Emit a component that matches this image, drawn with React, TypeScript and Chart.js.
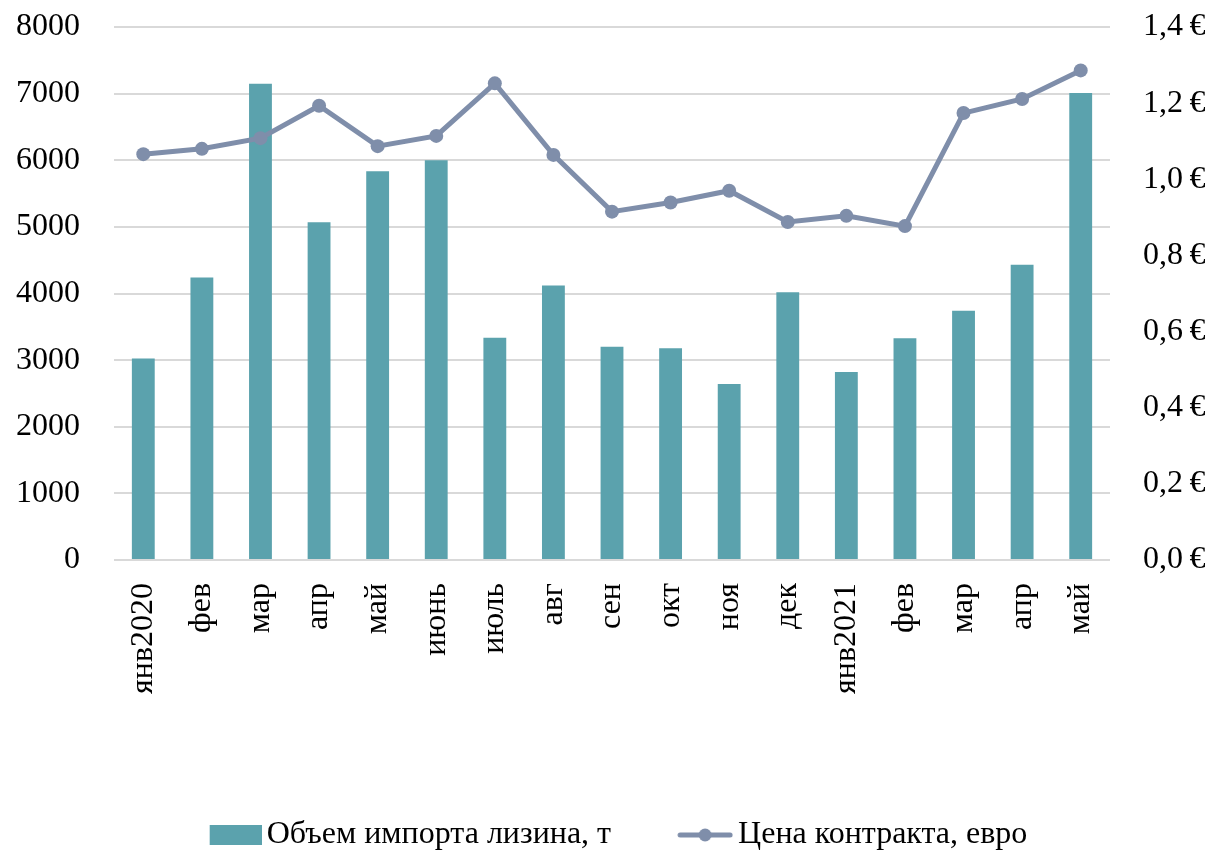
import React, { useEffect, useRef } from 'react';
import { Chart, registerables } from 'chart.js';

Chart.register(...registerables);

const categories = ['янв2020', 'фев', 'мар', 'апр', 'май', 'июнь', 'июль', 'авг', 'сен', 'окт', 'ноя', 'дек', 'янв2021', 'фев', 'мар', 'апр', 'май'];
const importVolume = [3025, 4240, 7150, 5070, 5835, 6000, 3335, 4120, 3200, 3180, 2640, 4020, 2820, 3330, 3740, 4430, 7010];
const contractPrice = [1.066, 1.08, 1.108, 1.193, 1.087, 1.114, 1.252, 1.064, 0.915, 0.939, 0.970, 0.888, 0.904, 0.877, 1.174, 1.211, 1.286];
const leftTickLabels = ['0', '1000', '2000', '3000', '4000', '5000', '6000', '7000', '8000'];
const rightTickLabels = ['0,0\u2009€', '0,2\u2009€', '0,4\u2009€', '0,6\u2009€', '0,8\u2009€', '1,0\u2009€', '1,2\u2009€', '1,4\u2009€'];
const seriesNames = ['Объем импорта лизина, т', 'Цена контракта, евро'];

const BAR_COLOR = '#5BA2AD';
const LINE_COLOR = '#7F8EAA';

const LEGEND_PAD = 48;
const POINT_W = 63;
const LEGEND_H = LEGEND_PAD + 35;

// icon image is centred at x + POINT_W/2; its right edge sits 5px before the text
const ICON_W = POINT_W + 22;

function makeBarIcon(): HTMLCanvasElement {
  const c = document.createElement('canvas');
  c.width = ICON_W;
  c.height = 20;
  const ctx = c.getContext('2d')!;
  ctx.fillStyle = BAR_COLOR;
  ctx.fillRect(ICON_W - 52, 0, 52, 20);
  return c;
}

function makeLineIcon(): HTMLCanvasElement {
  const c = document.createElement('canvas');
  c.width = ICON_W;
  c.height = 20;
  const ctx = c.getContext('2d')!;
  ctx.strokeStyle = LINE_COLOR;
  ctx.lineWidth = 5;
  ctx.lineCap = 'round';
  ctx.beginPath();
  ctx.moveTo(ICON_W - 53, 10);
  ctx.lineTo(ICON_W - 3, 10);
  ctx.stroke();
  ctx.fillStyle = LINE_COLOR;
  ctx.beginPath();
  ctx.arc(ICON_W - 28, 10, 6.5, 0, Math.PI * 2);
  ctx.fill();
  return c;
}

export default function App() {
  const ref = useRef<HTMLCanvasElement>(null);

  useEffect(() => {
    if (!ref.current) return;
    const icons = [makeBarIcon(), makeLineIcon()];
    Chart.defaults.font.family = '"Liberation Serif", "Times New Roman", serif';
    Chart.defaults.font.size = 32;
    Chart.defaults.color = '#000000';

    const fixVertical = (width: number) => (s: any) => {
      s.width = width;
      s.paddingTop = 0;
      s.paddingBottom = 0;
    };

    const chart = new Chart(ref.current, {
      type: 'bar',
      data: {
        labels: categories,
        datasets: [
          {
            type: 'bar',
            label: seriesNames[0],
            data: importVolume,
            backgroundColor: BAR_COLOR,
            borderWidth: 0,
            yAxisID: 'y',
            categoryPercentage: 1,
            barPercentage: 0.39,
            order: 1,
          },
          {
            type: 'line',
            label: seriesNames[1],
            data: contractPrice,
            borderColor: LINE_COLOR,
            backgroundColor: LINE_COLOR,
            borderWidth: 5,
            pointRadius: 7,
            pointBorderWidth: 0,
            pointBackgroundColor: LINE_COLOR,
            tension: 0,
            yAxisID: 'y1',
            order: 0,
          },
        ],
      } as any,
      options: {
        responsive: false,
        animation: false,
        events: [],
        layout: { padding: { left: 0, right: 0, top: 27, bottom: 0 } },
        plugins: {
          tooltip: { enabled: false },
          title: { display: false },
          legend: {
            display: true,
            position: 'bottom',
            align: 'center',
            maxHeight: LEGEND_H,
            labels: {
              usePointStyle: true,
              pointStyleWidth: POINT_W,
              padding: LEGEND_PAD,
              color: '#000000',
              font: { size: 32 },
              generateLabels: (ch: any) => {
                const items = (Chart.defaults.plugins.legend.labels as any).generateLabels(ch);
                items.sort((a: any, b: any) => a.datasetIndex - b.datasetIndex);
                return items.map((it: any) => ({ ...it, pointStyle: icons[it.datasetIndex], lineWidth: 0 }));
              },
            },
          },
        },
        scales: {
          x: {
            grid: { display: false, drawTicks: false },
            border: { display: false },
            ticks: { minRotation: 90, maxRotation: 90, padding: 23, autoSkip: false, color: '#000000' },
            afterFit: (s: any) => { s.height = 854 - LEGEND_H - 560; },
          },
          y: {
            position: 'left',
            min: 0,
            max: 8000,
            grid: { color: '#D9D9D9', lineWidth: 2, drawTicks: false },
            border: { display: false },
            ticks: {
              stepSize: 1000,
              padding: 34,
              color: '#000000',
              callback: (_v: any, i: number) => leftTickLabels[i],
            },
            afterFit: fixVertical(114),
          },
          y1: {
            position: 'right',
            min: 0,
            max: 1.4,
            grid: { drawOnChartArea: false, drawTicks: false },
            border: { display: false },
            ticks: {
              stepSize: 0.2,
              padding: 33,
              color: '#000000',
              callback: (_v: any, i: number) => rightTickLabels[i],
            },
            afterFit: fixVertical(105),
          },
        },
      } as any,
    });
    return () => chart.destroy();
  }, []);

  return (
    <div style={{ position: 'fixed', left: 0, top: 0, width: 1215, height: 854, background: '#ffffff' }}>
      <canvas ref={ref} width={1215} height={854} style={{ display: 'block' }} />
    </div>
  );
}
